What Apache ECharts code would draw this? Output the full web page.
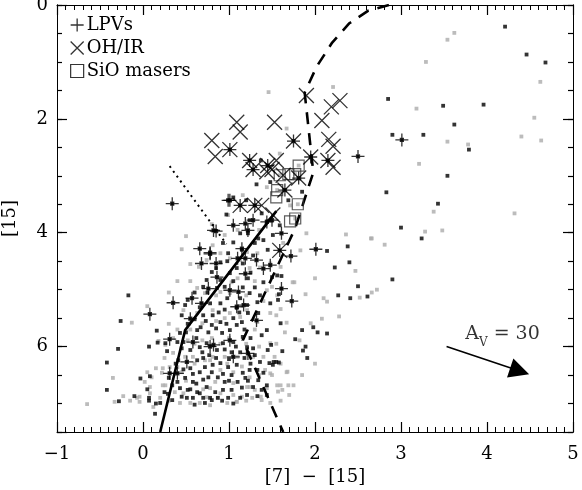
<!DOCTYPE html>
<html>
<head>
<meta charset="utf-8">
<title>[15] vs [7]-[15]</title>
<script src="https://cdn.jsdelivr.net/npm/echarts@6/dist/echarts.min.js"></script>
</head>
<body style="margin:0">
<div id="main" style="width:582px;height:490px;"></div>
<script>
// field stars, grey
var grayPts = [
  [3.62,0.49],[3.54,0.61],[3.29,1.00],[4.62,1.35],[3.18,1.82],[4.55,1.98],[4.40,2.31],[4.63,2.38],[3.54,2.40],[3.78,2.45],
  [3.21,2.79],[3.38,3.63],[4.32,3.66],[3.28,3.98],[3.48,3.96],[2.66,4.10],[2.36,4.03],[2.65,4.10],[2.81,4.21],[2.47,4.67],
  [2.00,4.80],[1.76,4.87],[1.89,5.08],[2.10,5.15],[2.14,5.21],[2.52,5.14],[2.66,5.05],[2.72,5.00],[2.08,5.51],[2.28,5.47],
  [1.95,5.59],[1.67,5.58],[1.82,5.89],[1.60,5.34],[1.68,6.44],[1.60,6.68],[1.75,6.68],
  [-0.65,7.01],[-0.33,6.97],[-0.13,5.58],[0.05,5.29],[-0.23,6.87],[-0.04,6.88],[-0.04,6.97],[0.15,6.38],[0.18,5.90],
  [0.26,5.97],[0.08,6.82],[0.26,6.68],[0.12,7.06],
  [1.46,1.53],[2.21,1.44],[1.67,2.17],[1.59,2.61],[1.16,3.34],[1.44,3.20],[0.99,3.69],[1.71,3.52],[1.83,4.31],[1.90,4.01],
  [1.81,2.82],[1.59,2.99],[1.77,2.97],[1.56,3.25],[1.80,3.50],[1.77,3.75],
  [0.69,5.59],[0.95,5.50],[1.13,5.48],[1.33,5.57],[1.48,5.41],[1.48,5.94],[1.40,6.18],[1.28,6.18],[1.10,6.18],[0.95,6.18],
  [0.81,6.18],[0.72,6.24],[0.90,6.41],[1.05,6.45],[1.24,6.54],[1.50,6.50],[1.56,6.68],[1.67,6.45],[1.69,6.68],[1.62,6.76],
  [1.44,6.73],[1.21,6.71],[1.05,6.64],[0.84,6.62],[0.78,6.73],[0.90,6.82],[1.05,6.85],[1.27,6.90],[1.38,6.94],[0.98,6.99],
  [0.78,7.03],[1.09,6.97],[1.48,6.99],
  [0.52,5.89],[0.69,5.89],[0.80,5.85],[0.49,6.18],[0.58,6.18],[0.78,6.24],[0.35,6.11],[0.40,6.36],[0.45,6.45],[0.23,6.38],
  [0.22,6.46],[0.10,6.54],[0.02,6.62],[0.08,6.71],[0.23,6.68],[0.37,6.80],[0.47,6.82],[0.55,6.99],[0.66,6.99],[0.74,6.89],
  [0.87,6.90],[0.43,6.99],[-0.07,6.90],[0.31,6.36],
  [0.95,4.04],[0.81,4.22],[0.90,4.36],[0.74,4.48],[1.01,4.45],[1.21,4.34],[1.33,4.36],[1.13,4.48],[1.24,4.62],[1.03,4.87],
  [0.90,5.04],[0.72,5.06],[0.63,4.97],[1.01,5.06],[1.36,4.61],[1.48,4.54],[1.44,5.01],[1.56,5.10],[1.21,5.36],[1.01,5.41],
  [0.81,5.36],[0.63,5.41],[0.47,5.36],[1.74,4.87],[1.63,4.18],[0.50,4.06],[0.45,4.29],
  [1.53,6.18],[1.42,6.41],[1.48,6.47],[1.57,6.79],[1.37,6.88],[1.15,6.88],[1.09,6.97],[1.30,6.76],[1.24,6.71],
  [0.30,5.60],[0.40,5.70],[0.55,5.70],[0.85,5.55],[1.00,5.85],[1.20,5.95],[1.35,6.00],[1.55,5.95],[1.60,6.30],[1.35,6.50],
  [1.15,6.35],[0.98,6.30],[0.60,6.30],[0.50,6.60],[0.70,6.75],[1.20,6.95],[1.60,6.95],[1.70,6.85],[0.30,6.95],[0.20,6.90],
  [-0.15,6.95],[-0.35,6.55],[0.05,6.45],[0.25,6.20],[0.35,5.85],[0.60,5.95],[0.90,5.95],[1.30,5.70],[1.65,5.75],[1.55,5.45],
  [1.40,5.20],[1.20,5.10],[0.85,5.10],[0.55,4.85],[0.65,4.60],[1.10,4.80],[1.30,4.85],[1.50,4.95],[1.60,4.60],[0.80,3.85],
  [1.10,3.95],[1.35,3.95],[0.55,4.55],[0.40,4.85],[0.30,5.05],[1.85,6.50],[2.00,6.30]
];

// field stars, black
var blackPts = [
  [4.21,0.38],[4.46,0.87],[4.68,1.01],[2.85,1.65],[3.49,1.77],[3.96,1.75],[3.62,2.10],[2.90,2.28],[3.26,2.28],[3.79,2.54],
  [3.54,3.00],[2.83,3.29],[3.43,3.49],[3.00,3.91],[3.24,4.10],
  [2.14,4.32],[2.38,4.24],[2.23,4.61],[2.40,4.52],[2.90,4.82],[2.50,4.94],[2.27,5.10],[2.41,5.15],[2.61,5.12],[1.61,4.76],
  [1.60,5.59],[1.85,5.71],[1.98,5.66],[2.03,5.75],[2.14,5.77],[1.77,5.87],[1.89,6.00],[1.86,6.07],[1.91,6.20],[1.62,6.08],
  [-0.17,5.10],[-0.26,5.55],[-0.29,6.04],[-0.42,6.28],[-0.42,6.76],[-0.28,6.96],[-0.10,6.87],[-0.03,6.56],[0.07,6.00],[0.16,5.72],
  [0.17,5.93],[0.08,6.52],[0.05,6.75],[0.07,6.95],[0.15,7.00],[0.14,7.18],[0.28,6.08],[0.29,6.83],
  [1.37,2.73],[1.32,3.15],[1.85,3.28],[1.48,3.11],[1.20,3.43],[1.38,3.66],[0.97,3.68],[1.69,3.43],[1.24,3.78],[1.05,3.38],
  [0.70,5.45],[0.81,5.45],[0.90,5.57],[0.80,5.62],[0.76,5.75],[0.92,5.76],[1.01,5.71],[1.09,5.62],[1.15,5.57],[1.22,5.41],
  [1.34,5.41],[1.16,5.83],[1.05,5.92],[0.93,5.94],[0.86,6.06],[0.74,5.94],[0.69,6.10],[1.03,6.10],[1.13,6.10],[1.21,6.01],
  [1.28,6.03],[1.38,5.80],[1.55,6.27],[1.51,6.32],[1.47,6.29],[1.45,6.06],[1.36,6.27],[1.40,6.46],[1.33,6.41],[1.24,6.41],
  [1.16,6.46],[1.09,6.32],[0.99,6.36],[0.90,6.29],[0.81,6.32],[0.72,6.36],[0.76,6.54],[0.87,6.54],[0.95,6.62],[1.03,6.50],
  [1.10,6.62],[1.19,6.55],[1.28,6.71],[1.34,6.59],[1.38,6.76],[1.21,6.85],[1.13,6.90],[1.03,6.76],[0.93,6.76],[0.84,6.80],
  [0.74,6.71],[0.70,6.90],[0.78,6.90],[0.87,6.90],[0.72,6.99],[1.33,6.87],[1.44,6.85],[0.99,6.90],
  [0.63,5.71],[0.55,6.06],[0.66,6.01],[0.63,6.24],[0.55,6.38],[0.66,6.45],[0.49,6.55],[0.58,6.62],[0.43,6.73],[0.52,6.76],
  [0.63,6.80],[0.51,6.90],[0.58,6.90],[0.80,6.94],[0.34,6.68],[0.41,6.24],[0.45,6.03],[0.40,5.92],[0.26,5.94],[0.07,6.90],
  [0.34,6.94],[0.20,6.99],[0.43,5.76],[0.47,5.92],
  [0.93,4.18],[0.99,4.36],[0.90,4.52],[0.80,4.69],[0.74,4.83],[0.86,4.97],[0.90,4.83],[1.01,4.71],[1.09,4.62],[1.16,4.54],
  [1.30,4.18],[1.40,4.13],[1.22,4.80],[1.16,4.96],[1.30,4.96],[1.40,4.87],[1.50,4.78],[1.24,5.06],[1.36,5.10],[1.13,5.15],
  [0.98,5.15],[0.90,5.24],[0.78,5.24],[0.66,5.31],[0.52,5.18],[0.49,5.27],[1.09,5.32],[1.21,5.27],[1.33,5.22],[1.48,5.24],
  [1.57,5.18],[1.56,4.75],[1.34,4.10],[1.51,4.04],[1.59,3.87],[1.13,4.01],[1.22,4.01],[1.05,4.17],
  [1.58,5.08],[1.44,5.71],[1.49,5.97],[1.52,6.27],[1.58,6.28],[1.44,6.68],
  [0.45,5.45],[0.52,5.60],[0.60,5.52],[0.67,5.66],[0.73,5.55],[0.85,5.68],[0.97,5.60],[1.05,5.50],[1.18,5.70],[1.25,5.85],
  [0.62,5.85],[0.70,6.20],[0.77,6.15],[0.85,6.20],[0.95,6.05],[1.00,6.22],[1.08,6.00],[1.18,6.20],[1.30,6.15],[1.25,6.30],
  [0.47,6.40],[0.58,6.48],[0.70,6.58],[0.80,6.45],[0.93,6.48],[1.00,6.60],[1.15,6.72],[1.22,6.60],[0.62,6.65],[0.55,6.75],
  [0.40,6.62],[0.45,6.88],[0.66,6.82],[0.92,6.95],[1.05,7.00],[0.60,7.02],[0.38,6.30],[0.30,6.55],[0.25,6.80],[0.50,5.75],
  [0.95,5.35],[0.88,5.40],[1.12,5.40],[0.75,5.05],[0.95,4.95],[1.05,4.85],[1.25,4.70],[0.85,4.62],[0.70,4.95],[0.60,5.05],
  [1.15,4.30],[0.98,4.50],[1.28,4.40],[1.45,4.30]
];

// long period variables
var lpvPts = [
  [0.34,3.49],[0.08,5.43],[0.35,5.23],[0.57,5.15],[0.68,5.24],[0.55,5.51],[0.31,5.87],[0.58,5.92],[0.82,5.97],[0.51,6.27],
  [0.31,6.47],[0.40,6.47],[0.78,4.37],[0.68,4.54],[0.85,4.54],[0.86,4.78],[1.01,5.01],[0.85,3.97],[1.05,3.87],[1.19,3.84],
  [1.28,3.78],[1.44,3.81],[0.66,4.28],[0.78,4.35],[1.10,4.45],[1.19,4.45],[1.32,4.48],[1.40,4.63],[1.19,4.72],[0.76,4.98],
  [1.11,5.04],[1.61,4.98],[1.73,5.20],[1.09,5.30],[2.01,4.29],[1.72,4.41],[1.61,4.01],[1.15,4.28],[1.48,4.57],[1.17,5.27],
  [1.32,5.54],[1.05,6.18],[1.22,6.12],[1.01,5.89],[0.78,6.00],[1.01,3.43],[0.82,3.96],[1.22,3.96],[1.50,3.78],[0.99,3.43],
  [2.50,2.66],[3.01,2.37],
  [1.01,2.54],[1.75,2.39],[2.15,2.73],[1.95,2.67],[1.24,2.73],[1.28,2.89],[1.45,2.82],[1.81,3.04],[1.65,3.25],[1.13,3.52],
  [1.30,3.52],[1.59,4.31]
];

// OH/IR stars
var ohirPts = [
  [1.90,1.59],[2.19,1.79],[2.29,1.68],[2.08,2.03],[1.09,2.06],[1.13,2.23],[1.53,2.06],[0.80,2.38],[0.84,2.66],[1.01,2.54],
  [1.75,2.39],[2.16,2.36],[2.21,2.48],[2.15,2.73],[2.21,2.85],[1.95,2.67],[1.24,2.73],[1.28,2.89],[1.45,2.82],[1.55,2.73],
  [1.44,2.93],[1.50,2.89],[1.63,2.99],[1.81,3.04],[1.65,3.25],[1.13,3.52],[1.30,3.52],[1.38,3.52],[1.51,3.69],[1.59,4.31]
];

// SiO masers
var sioPts = [
  [1.81,2.82],[1.59,2.99],[1.69,2.97],[1.77,2.97],[1.56,3.25],[1.55,3.38],[1.80,3.50],[1.77,3.75],[1.71,3.80]
];

var solidLine = [[0.20,7.5],[0.49,5.71],[1.55,3.62]];
var dashedLine = [[2.86,0.0],[2.62,0.10],[2.40,0.32],[2.20,0.66],[2.02,1.08],[1.88,1.54],[1.98,2.94],[1.77,3.92],[1.16,5.89],[1.63,7.5]];
var dottedLine = [[0.31,2.83],[0.97,4.20]];
var arrowFrom = [3.53,6.00];
var arrowTo = [4.38,6.43];
var avLabelPos = [4.18,5.83];

var chart = echarts.init(document.getElementById('main'));
var font = 'DejaVu Serif';
var plusDot = 'path://M0,-7L0,7M-7,0L7,0M-1.6,-1.6L1.6,-1.6L1.6,1.6L-1.6,1.6Z';
var plus = 'path://M0,-7L0,7M-7,0L7,0';
var cross = 'path://M-7,-7L7,7M-7,7L7,-7';

function yAx(pos, interval, len, labels) {
    return {
        type: 'value', position: pos, min: 0, max: 7.5, interval: interval, inverse: true,
        axisLine: {show: true, onZero: false, lineStyle: {color: '#000', width: 1}},
        axisTick: {show: true, inside: true, length: len, lineStyle: {color: '#000', width: 1.2}},
        splitLine: {show: false},
        axisLabel: {
            show: labels, margin: 9, color: '#000', fontFamily: font, fontSize: 18,
            formatter: function (v) { return v % 2 === 0 ? String(v) : ''; }
        },
        name: labels && pos === 'left' ? '[15]' : '',
        nameLocation: 'middle', nameGap: 38, nameRotate: 90,
        nameTextStyle: {color: '#000', fontFamily: font, fontSize: 18}
    };
}

function xAx(pos, labels) {
    return {
        type: 'value', position: pos, min: -1, max: 5, interval: 1,
        axisLine: {show: true, onZero: false, lineStyle: {color: '#000', width: 1}},
        axisTick: {show: true, inside: true, length: 10, lineStyle: {color: '#000', width: 1.2}},
        minorTick: {show: true, splitNumber: 10, length: 5, lineStyle: {color: '#000', width: 1}},
        splitLine: {show: false},
        axisLabel: {
            show: labels, margin: 13, color: '#000', fontFamily: font, fontSize: 18,
            formatter: function (v) { return v < 0 ? '\u2212' + Math.abs(v) : String(v); }
        },
        name: labels ? '[7]  \u2212  [15]' : '',
        nameLocation: 'middle', nameGap: 36,
        nameTextStyle: {color: '#000', fontFamily: font, fontSize: 18}
    };
}

var option = {
    animation: false,
    backgroundColor: '#fff',
    grid: {left: 57, right: 9, top: 5, bottom: 58, outerBoundsMode: 'none', containLabel: false},
    xAxis: [xAx('bottom', true), xAx('top', false)],
    yAxis: [yAx('left', 2, 10, true), yAx('left', 0.5, 5, false), yAx('right', 2, 10, false), yAx('right', 0.5, 5, false)],
    legend: {
        left: 65, top: 11, orient: 'vertical', itemGap: 5, itemWidth: 13, itemHeight: 13,
        textStyle: {color: '#000', fontFamily: font, fontSize: 18, padding: [0, 0, 0, -2]},
        selectedMode: false,
        data: [
            {name: 'LPVs', icon: plus, itemStyle: {color: '#000', borderColor: '#000', borderWidth: 1.3}},
            {name: 'OH/IR', icon: cross, itemStyle: {color: 'transparent', borderColor: '#000', borderWidth: 1.3}},
            {name: 'SiO masers', icon: 'rect', itemStyle: {color: 'transparent', borderColor: '#000', borderWidth: 1.2}}
        ]
    },
    series: [
        {type: 'scatter', name: 'field grey', data: grayPts, symbol: 'rect', symbolSize: 3.8,
         itemStyle: {color: '#ababab'}, z: 1},
        {type: 'scatter', name: 'field', data: blackPts, symbol: 'rect', symbolSize: 3.8,
         itemStyle: {color: '#000'}, z: 2},
        {type: 'line', name: 'solid', data: solidLine, symbol: 'none',
         lineStyle: {color: '#000', width: 2.6}, z: 3},
        {type: 'line', name: 'dashed', data: dashedLine, symbol: 'none',
         lineStyle: {color: '#000', width: 2.6, type: [12, 9]}, z: 3},
        {type: 'line', name: 'dotted', data: dottedLine, symbol: 'none',
         lineStyle: {color: '#000', width: 2, type: [2, 4]}, z: 3},
        {type: 'scatter', name: 'SiO masers', data: sioPts, symbol: 'rect', symbolSize: 11,
         itemStyle: {color: 'transparent', borderColor: '#333', borderWidth: 1.2}, z: 4},
        {type: 'scatter', name: 'OH/IR', data: ohirPts, symbol: cross, symbolSize: 15,
         itemStyle: {color: 'transparent', borderColor: '#000', borderWidth: 1.3}, z: 5},
        {type: 'scatter', name: 'LPVs', data: lpvPts, symbol: plusDot, symbolSize: 13,
         itemStyle: {color: '#000', borderColor: '#000', borderWidth: 1.3}, z: 6},
        {type: 'lines', coordinateSystem: 'cartesian2d', name: 'Av',
         data: [{coords: [arrowFrom, arrowTo]}],
         symbol: ['none', 'triangle'], symbolSize: [16, 20],
         lineStyle: {color: '#000', width: 1.6, opacity: 1}, z: 7},
        {type: 'scatter', name: 'Av label', data: [avLabelPos], symbolSize: 0, z: 7,
         label: {
             show: true, position: 'inside', color: '#000', fontFamily: font,
             formatter: '{a|A}{s|V}{a| = 30}',
             rich: {
                 a: {fontSize: 19, fontFamily: font, lineHeight: 24, verticalAlign: 'top', color: '#000'},
                 s: {fontSize: 12, fontFamily: font, lineHeight: 24, verticalAlign: 'bottom', color: '#000'}
             }
         }}
    ]
};
chart.setOption(option);
</script>
</body>
</html>
